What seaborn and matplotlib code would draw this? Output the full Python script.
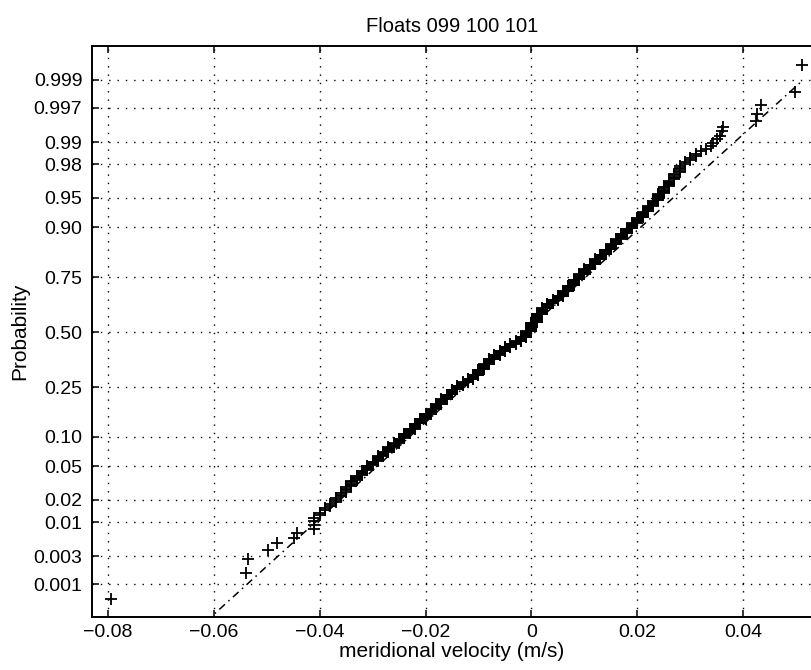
import matplotlib
matplotlib.use("Agg")
import matplotlib.pyplot as plt
import seaborn as sns
import numpy as np
from statistics import NormalDist

# ---- data (meridional velocity, m/s) ----
# individually visible lowest values
tail_low = [-0.0794, -0.0540, -0.0536, -0.0498, -0.0480, -0.0449, -0.0442]
# dense central band: velocity values (m/s) and how many observations sit at each
bin_values = [-0.041, -0.040, -0.039, -0.038, -0.037, -0.036, -0.035, -0.034, -0.033, -0.032,
              -0.031, -0.030, -0.029, -0.028, -0.027, -0.026, -0.025, -0.024, -0.023, -0.022,
              -0.021, -0.020, -0.019, -0.018, -0.017, -0.016, -0.015, -0.014, -0.013, -0.012,
              -0.011, -0.010, -0.009, -0.008, -0.007, -0.006, -0.005, -0.004, -0.003, -0.002,
              -0.001, 0.000, 0.001, 0.002, 0.003, 0.004, 0.005, 0.006, 0.007, 0.008,
              0.009, 0.010, 0.011, 0.012, 0.013, 0.014, 0.015, 0.016, 0.017, 0.018,
              0.019, 0.020, 0.021, 0.022, 0.023, 0.024, 0.025, 0.026, 0.027, 0.028,
              0.029, 0.030, 0.031, 0.032, 0.033, 0.034]
bin_counts = [4, 2, 2, 2, 3, 3, 4, 5, 5, 5,
              6, 5, 7, 6, 8, 7, 9, 10, 10, 12,
              12, 13, 14, 14, 16, 16, 17, 15, 12, 12,
              16, 22, 22, 22, 19, 16, 18, 14, 11, 20,
              26, 40, 38, 25, 20, 16, 16, 19, 23, 23,
              19, 17, 16, 16, 14, 14, 14, 13, 12, 11,
              11, 9, 10, 8, 7, 8, 7, 6, 5, 5,
              2, 2, 2, 1, 1, 1]
# individually visible highest values
tail_high = [0.0343, 0.0350, 0.0357, 0.0360, 0.0362, 0.0425, 0.0426, 0.0434, 0.0498, 0.0511]

# reference normal line (mean, std) as drawn
fit_mu = -0.0012
fit_sigma = 0.0170

prob_ticks = [0.001, 0.003, 0.01, 0.02, 0.05, 0.10, 0.25, 0.50, 0.75, 0.90, 0.95, 0.98, 0.99, 0.997, 0.999]
prob_labels = ["0.001", "0.003", "0.01", "0.02", "0.05", "0.10", "0.25", "0.50",
               "0.75", "0.90", "0.95", "0.98", "0.99", "0.997", "0.999"]
x_ticks = [-0.08, -0.06, -0.04, -0.02, 0.0, 0.02, 0.04]
x_labels = ["\u22120.08", "\u22120.06", "\u22120.04", "\u22120.02", "0", "0.02", "0.04"]

title = "Floats 099 100 101"
xlabel = "meridional velocity (m/s)"
ylabel = "Probability"

# ---- build normal probability plot ----
nd = NormalDist()
samples = np.sort(np.concatenate([tail_low, np.repeat(bin_values, bin_counts), tail_high]))
n = len(samples)
pp = (np.arange(1, n + 1) - 0.5) / n
zq = np.array([nd.inv_cdf(p) for p in pp])

sns.set_style("white")
plt.rcParams["font.family"] = ["Liberation Sans", "DejaVu Sans"]
plt.rcParams["text.color"] = "black"
plt.rcParams["axes.labelcolor"] = "black"
plt.rcParams["xtick.color"] = "black"
plt.rcParams["ytick.color"] = "black"

fig = plt.figure(figsize=(8.12, 6.7), dpi=100)
ax = fig.add_axes([92 / 812, 53 / 670, 720 / 812, 571 / 670])

line_x = np.array([samples.min(), samples.max()])
line_z = (line_x - fit_mu) / fit_sigma
sns.lineplot(x=line_x, y=line_z, ax=ax, color="black", linewidth=1.1,
             linestyle=(0, (5, 3, 1, 3)), zorder=2)
sns.scatterplot(x=samples, y=zq, ax=ax, marker="+", color="black", s=80,
                linewidth=1.3, zorder=3)

ax.set_xlim(-0.0830, 0.0530)
ax.set_ylim(-3.49, 3.505)
ax.set_xticks(x_ticks)
ax.set_xticklabels(x_labels)
ax.set_yticks([nd.inv_cdf(p) for p in prob_ticks])
ax.set_yticklabels(prob_labels)

ax.grid(True, color="black", linestyle=(0, (1, 5)), linewidth=1.0)
ax.set_axisbelow(True)
for side in ["left", "top", "bottom"]:
    ax.spines[side].set_visible(True)
    ax.spines[side].set_color("black")
    ax.spines[side].set_linewidth(1.4)
ax.spines["right"].set_visible(False)
ax.tick_params(axis="both", direction="in", length=5, width=1.1, colors="black",
               labelcolor="black", labelsize=14, top=True, bottom=True, left=True, right=False)
ax.tick_params(axis="x", pad=5)
ax.tick_params(axis="y", pad=7)

ax.set_title(title, fontsize=14.5, pad=10, color="black")
ax.set_xlabel(xlabel, fontsize=15, labelpad=1, color="black")
ax.set_ylabel(ylabel, fontsize=15, labelpad=3, color="black")

fig.savefig("out.png", dpi=100)
